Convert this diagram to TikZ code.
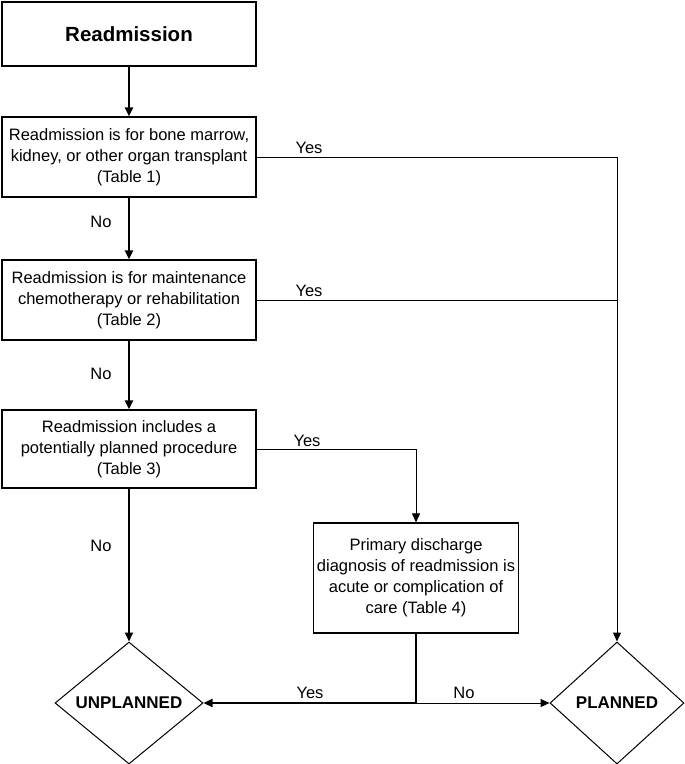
\documentclass[tikz,border=0pt]{standalone}
\usepackage{fontspec}
\setmainfont{Liberation Sans}
\usetikzlibrary{shapes.geometric,arrows.meta}

\tikzset{
  stepbox/.style={draw,line width=1.2pt,minimum width=254pt,align=center,
    inner sep=0pt,font=\fontsize{16.5}{21}\selectfont},
  decision/.style={draw,diamond,line width=1pt,inner sep=0pt,
    font=\fontsize{17}{20}\selectfont\bfseries},
  thickline/.style={line width=2pt},
  thinline/.style={line width=1pt},
  tip/.style={-{Triangle[length=9pt,width=8pt]}},
  lbl/.style={font=\fontsize{16.5}{20}\selectfont}
}

\begin{document}
\begin{tikzpicture}[x=1pt,y=-1pt]
\useasboundingbox (0,0) rectangle (685,764);

\node[stepbox,minimum height=64pt,font=\fontsize{20.5}{24}\selectfont\bfseries] (start) at (129,34) {Readmission};
\node[stepbox,minimum height=80pt] (transplant) at (129,157) {Readmission is for bone marrow,\\kidney, or other organ transplant\\(Table 1)};
\node[stepbox,minimum height=80pt] (maint) at (129,300) {Readmission is for maintenance\\chemotherapy or rehabilitation\\(Table 2)};
\node[stepbox,minimum height=78pt] (proc) at (129,449) {Readmission includes a\\potentially planned procedure\\(Table 3)};
\node[stepbox,minimum width=205pt,minimum height=110pt] (diag) at (416,578) {Primary discharge\\diagnosis of readmission is\\acute or complication of\\care (Table 4)};

\node[decision,minimum width=148pt,minimum height=122pt] (unplanned) at (129,703) {UNPLANNED};
\node[decision,minimum width=134pt,minimum height=122pt] (planned) at (617,703) {PLANNED};

% main line
\draw[thickline,tip] (start) -- (transplant);
\draw[thickline,tip] (transplant) -- (maint);
\draw[thickline,tip] (maint) -- (proc);
\draw[thickline,tip] (proc) -- (unplanned);

% yes branches
\draw[thinline,tip] (transplant.east) -- (transplant.east -| planned) -- (planned.north);
\draw[thinline] (maint.east) -- (maint.east -| planned);
\draw[thinline,tip] (proc.east) -| (diag.north);

% last split
\coordinate (split) at (diag.south |- unplanned);
\draw[thickline] (diag.south) -- (split);
\draw[thickline,tip] (split) -- (unplanned.east);
\draw[thinline,tip] (split) -- (planned.west);

\node[lbl] (yes1) at (309,148) {Yes};
\node[lbl] (yes2) at (309,291) {Yes};
\node[lbl] (yes3) at (307,441) {Yes};
\node[lbl] (yes4) at (310,693) {Yes};
\node[lbl] (no1) at (101,222) {No};
\node[lbl] (no2) at (101,374) {No};
\node[lbl] (no3) at (101,546) {No};
\node[lbl] (no4) at (464,693) {No};
\end{tikzpicture}
\end{document}
